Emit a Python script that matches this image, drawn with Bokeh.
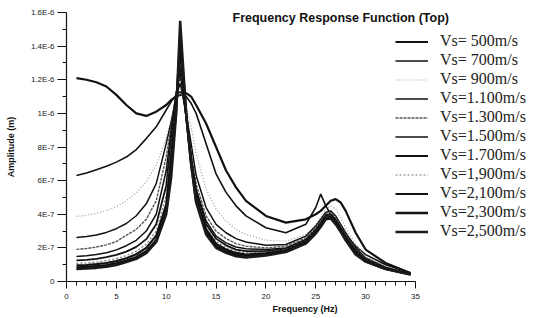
from bokeh.plotting import figure
from bokeh.models import FixedTicker, CustomJSTickFormatter, Label, Legend, LegendItem
from bokeh.embed import file_html
from bokeh.resources import INLINE

# Frequency (Hz)
freq = [1, 2, 3, 4, 5, 6, 7, 8, 9, 10, 10.5, 11, 11.4, 12, 12.5, 13, 14, 15, 16, 17, 18,
        20, 22, 24, 25, 25.5, 26, 26.5, 27, 27.5, 28, 29, 30, 32, 34.5]

# Amplitude in units of 1E-6 m
vs500 = [1.21, 1.20, 1.185, 1.16, 1.11, 1.05, 1.00, 0.985, 1.01, 1.05, 1.08, 1.10, 1.11, 1.12, 1.10,
         1.05, 0.94, 0.80, 0.66, 0.56, 0.48, 0.39, 0.35, 0.37, 0.40, 0.42, 0.45, 0.48, 0.49, 0.47,
         0.42, 0.29, 0.19, 0.11, 0.05]
vs700 = [0.63, 0.645, 0.665, 0.685, 0.71, 0.74, 0.785, 0.85, 0.92, 1.02, 1.07, 1.11, 1.13, 1.10, 1.06,
         1.00, 0.82, 0.64, 0.53, 0.45, 0.39, 0.32, 0.29, 0.34, 0.44, 0.52, 0.45, 0.40, 0.36, 0.32,
         0.28, 0.21, 0.16, 0.10, 0.05]
vs900 = [0.387, 0.394, 0.405, 0.422, 0.446, 0.48, 0.527, 0.593, 0.692, 0.85, 0.96, 1.07, 1.13, 1.05, 0.92,
         0.76, 0.55, 0.43, 0.36, 0.31, 0.28, 0.245, 0.24, 0.28, 0.34, 0.38, 0.43, 0.45, 0.43, 0.38,
         0.32, 0.22, 0.15, 0.09, 0.045]
vs1100 = [0.262, 0.267, 0.277, 0.292, 0.314, 0.345, 0.391, 0.462, 0.582, 0.82, 0.95, 1.10, 1.18, 1.00, 0.82,
          0.63, 0.44, 0.34, 0.29, 0.255, 0.235, 0.215, 0.22, 0.27, 0.33, 0.37, 0.41, 0.42, 0.39, 0.34,
          0.29, 0.20, 0.14, 0.085, 0.045]
vs1300 = [0.191, 0.196, 0.205, 0.218, 0.238, 0.275, 0.31, 0.37, 0.48, 0.74, 0.93, 1.12, 1.22, 0.98, 0.77,
          0.58, 0.39, 0.30, 0.255, 0.225, 0.21, 0.20, 0.21, 0.26, 0.32, 0.36, 0.40, 0.41, 0.38, 0.33,
          0.28, 0.19, 0.135, 0.082, 0.045]
vs1500 = [0.149, 0.153, 0.16, 0.171, 0.188, 0.213, 0.245, 0.30, 0.40, 0.66, 0.90, 1.12, 1.25, 0.98, 0.74,
          0.55, 0.36, 0.27, 0.23, 0.205, 0.195, 0.19, 0.20, 0.25, 0.31, 0.35, 0.395, 0.40, 0.37, 0.32,
          0.27, 0.185, 0.13, 0.08, 0.045]
vs1700 = [0.126, 0.129, 0.135, 0.145, 0.158, 0.178, 0.206, 0.252, 0.34, 0.57, 0.85, 1.10, 1.28, 0.98, 0.73,
          0.53, 0.34, 0.255, 0.215, 0.19, 0.18, 0.18, 0.195, 0.245, 0.305, 0.345, 0.39, 0.395, 0.36, 0.315,
          0.265, 0.18, 0.128, 0.078, 0.044]
vs1900 = [0.108, 0.11, 0.116, 0.124, 0.136, 0.154, 0.18, 0.222, 0.30, 0.51, 0.80, 1.08, 1.32, 0.98, 0.72,
          0.51, 0.32, 0.24, 0.20, 0.18, 0.17, 0.175, 0.19, 0.24, 0.30, 0.34, 0.385, 0.39, 0.355, 0.31,
          0.26, 0.175, 0.125, 0.077, 0.044]
vs2100 = [0.096, 0.098, 0.103, 0.11, 0.121, 0.138, 0.162, 0.20, 0.272, 0.457, 0.75, 1.05, 1.38, 0.99, 0.71,
          0.50, 0.31, 0.225, 0.19, 0.17, 0.16, 0.168, 0.185, 0.235, 0.295, 0.335, 0.38, 0.385, 0.35, 0.305,
          0.255, 0.17, 0.122, 0.076, 0.043]
vs2300 = [0.084, 0.086, 0.09, 0.097, 0.107, 0.124, 0.145, 0.18, 0.245, 0.42, 0.68, 1.02, 1.45, 1.00, 0.70,
          0.48, 0.295, 0.21, 0.18, 0.16, 0.15, 0.16, 0.18, 0.23, 0.29, 0.33, 0.375, 0.38, 0.345, 0.30,
          0.25, 0.165, 0.12, 0.075, 0.043]
vs2500 = [0.075, 0.077, 0.081, 0.088, 0.098, 0.115, 0.135, 0.168, 0.235, 0.40, 0.62, 1.00, 1.55, 1.00, 0.70,
          0.47, 0.28, 0.20, 0.17, 0.15, 0.143, 0.155, 0.175, 0.225, 0.285, 0.325, 0.37, 0.375, 0.34, 0.295,
          0.245, 0.16, 0.118, 0.074, 0.042]

labels = ["Vs= 500m/s", "Vs= 700m/s", "Vs= 900m/s", "Vs=1.100m/s", "Vs=1.300m/s", "Vs=1.500m/s",
          "Vs=1.700m/s", "Vs=1,900m/s", "Vs=2,100m/s", "Vs=2,300m/s", "Vs=2,500m/s"]
series = [vs500, vs700, vs900, vs1100, vs1300, vs1500, vs1700, vs1900, vs2100, vs2300, vs2500]

x_ticks = [0, 5, 10, 15, 20, 25, 30, 35]
y_ticks = [0, 0.2, 0.4, 0.6, 0.8, 1.0, 1.2, 1.4, 1.6]

styles = [
    dict(line_color="#111111", line_width=2.2),
    dict(line_color="#111111", line_width=1.6),
    dict(line_color="#9a9a9a", line_width=1.2, line_dash="1 2"),
    dict(line_color="#111111", line_width=1.5),
    dict(line_color="#555555", line_width=1.4, line_dash="3 1"),
    dict(line_color="#111111", line_width=1.5),
    dict(line_color="#111111", line_width=1.8),
    dict(line_color="#777777", line_width=1.2, line_dash="2 2"),
    dict(line_color="#111111", line_width=2.2),
    dict(line_color="#111111", line_width=2.5),
    dict(line_color="#1a1a1a", line_width=2.5),
]

# frame spans the whole right side so the legend and title are not clipped;
# the x axis itself is bounded to 0..35 Hz
p = figure(frame_width=477, frame_height=269, x_range=(0, 47.84), y_range=(0, 1.6),
           output_backend="svg", toolbar_location=None,
           min_border_left=66, min_border_right=0, min_border_top=12, min_border_bottom=37)
p.xgrid.visible = False
p.ygrid.visible = False
p.outline_line_color = None
p.background_fill_color = "white"
p.border_fill_color = "white"

items = []
for lab, ys, st in zip(labels, series, styles):
    r = p.line(freq, ys, **st)
    items.append(LegendItem(label=lab, renderers=[r]))

for ax in (p.xaxis[0], p.yaxis[0]):
    ax.axis_line_color = "#111111"
    ax.axis_line_width = 1.2
    ax.major_tick_line_color = "#111111"
    ax.minor_tick_line_color = "#111111"
    ax.major_tick_in = 0
    ax.minor_tick_in = 0
    ax.major_label_text_font = "Liberation Sans"
    ax.major_label_text_font_size = "8px"
    ax.major_label_text_color = "#222222"
    ax.axis_label_text_font = "Liberation Sans"
    ax.axis_label_text_font_style = "bold"
    ax.axis_label_text_font_size = "9px"
    ax.axis_label_text_color = "#111111"

p.xaxis.bounds = (0, 35)
p.xaxis.ticker = FixedTicker(ticks=x_ticks, minor_ticks=list(range(0, 36)))
p.xaxis.major_tick_out = 7
p.xaxis.minor_tick_out = 4
p.xaxis.major_label_standoff = 5
p.xaxis.axis_label = "Frequency (Hz)"
p.xaxis.axis_label_standoff = 2

p.yaxis.ticker = FixedTicker(ticks=y_ticks, minor_ticks=[0.1, 0.3, 0.5, 0.7, 0.9, 1.1, 1.3, 1.5])
p.yaxis.major_tick_out = 9
p.yaxis.minor_tick_out = 4
p.yaxis.major_label_standoff = 3
p.yaxis.axis_label = "Amplitude (m)"
p.yaxis.axis_label_standoff = 12
p.yaxis.formatter = CustomJSTickFormatter(code="""
const t = Math.round(tick * 10);
if (t == 0) return '0';
if (t < 10) return t + 'E-7';
return (t / 10) + 'E-6';
""")

legend = Legend(items=items, location=(329, 41), border_line_color=None,
                background_fill_alpha=0, padding=0, margin=0, spacing=1,
                glyph_width=33, glyph_height=17, label_height=17, label_standoff=12,
                label_text_font="Liberation Serif", label_text_font_size="16px",
                label_text_color="#222222", label_text_line_height=1.0)
p.add_layout(legend)

p.add_layout(Label(x=16.65, y=1.565, text="Frequency Response Function (Top)",
                   text_font="Liberation Sans", text_font_style="bold", text_font_size="12.5px",
                   text_baseline="middle", text_align="left", text_color="#111111"))

open("out.html", "w").write(file_html(p, INLINE))
